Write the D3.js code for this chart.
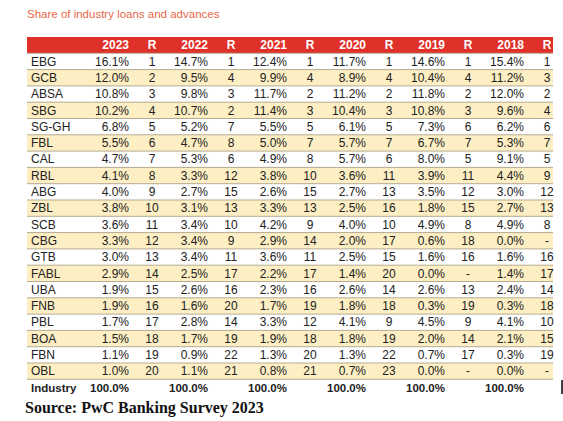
<!DOCTYPE html>
<html><head><meta charset="utf-8">
<script src="https://cdn.jsdelivr.net/npm/d3@7"></script>
<style>body{margin:0;background:#fff}svg{display:block}</style></head>
<body><svg id="c" width="563" height="421"></svg>
<script>
const banks=["EBG","GCB","ABSA","SBG","SG-GH","FBL","CAL","RBL","ABG","ZBL","SCB","CBG","GTB","FABL","UBA","FNB","PBL","BOA","FBN","OBL"];
const years=["2023","2022","2021","2020","2019","2018"];
const v2023=[16.1,12.0,10.8,10.2,6.8,5.5,4.7,4.1,4.0,3.8,3.6,3.3,3.0,2.9,1.9,1.9,1.7,1.5,1.1,1.0];
const r2023=[1,2,3,4,5,6,7,8,9,10,11,12,13,14,15,16,17,18,19,20];
const v2022=[14.7,9.5,9.8,10.7,5.2,4.7,5.3,3.3,2.7,3.1,3.4,3.4,3.4,2.5,2.6,1.6,2.8,1.7,0.9,1.1];
const r2022=[1,4,3,2,7,8,6,12,15,13,10,9,11,17,16,20,14,19,22,21];
const v2021=[12.4,9.9,11.7,11.4,5.5,5.0,4.9,3.8,2.6,3.3,4.2,2.9,3.6,2.2,2.3,1.7,3.3,1.9,1.3,0.8];
const r2021=[1,4,2,3,5,7,8,10,15,13,9,14,11,17,16,19,12,18,20,21];
const v2020=[11.7,8.9,11.2,10.4,6.1,5.7,5.7,3.6,2.7,2.5,4.0,2.0,2.5,1.4,2.6,1.8,4.1,1.8,1.3,0.7];
const r2020=[1,4,2,3,5,7,6,11,13,16,10,17,15,20,14,18,9,19,22,23];
const v2019=[14.6,10.4,11.8,10.8,7.3,6.7,8.0,3.9,3.5,1.8,4.9,0.6,1.6,0.0,2.6,0.3,4.5,2.0,0.7,0.0];
const r2019=[1,4,2,3,6,7,5,11,12,15,8,18,16,"-",13,19,9,14,17,"-"];
const v2018=[15.4,11.2,12.0,9.6,6.2,5.3,9.1,4.4,3.0,2.7,4.9,0.0,1.6,1.4,2.4,0.3,4.1,2.1,0.3,0.0];
const r2018=[1,3,2,4,6,7,5,9,12,13,8,"-",16,17,14,18,10,15,19,"-"];
const industry=["100.0%","100.0%","100.0%","100.0%","100.0%","100.0%"];
const title="Share of industry loans and advances";
const source="Source: PwC Banking Survey 2023";

const vals=[v2023,v2022,v2021,v2020,v2019,v2018], ranks=[r2023,r2022,r2021,r2020,r2019,r2018];
const svg=d3.select("#c");
const L=27,R=553;
const y=d3.scaleBand().domain(["H",...banks,"Industry"]).range([37,37+22*16.3]);
const valRight=d3.scaleLinear().domain([0,5]).range([129,524]);
const rankC=d3.scaleLinear().domain([0,5]).range([152,547]);
const font="Liberation Sans, Arial, sans-serif";
const fs=12;
svg.append("text").attr("x",L).attr("y",18).attr("fill","#e9674a").attr("font-family",font).attr("font-size",11.5).text(title);
svg.append("rect").attr("x",L).attr("y",y("H")).attr("width",R-L).attr("height",y.bandwidth()).attr("fill","#e0302a");
banks.forEach((b,i)=>{
  svg.append("rect").attr("x",L).attr("y",y(b)).attr("width",R-L).attr("height",y.bandwidth()).attr("fill",i%2?"#fdefc3":"#fff");
});
banks.forEach(b=>{svg.append("line").attr("x1",L).attr("x2",R).attr("y1",y(b)).attr("y2",y(b)).attr("stroke","#b5ab92").attr("stroke-width",1);});
svg.append("line").attr("x1",L).attr("x2",R).attr("y1",y("Industry")).attr("y2",y("Industry")).attr("stroke","#b5ab92");
const cy=k=>y(k)+y.bandwidth()/2+4.2;
years.forEach((yr,j)=>{
  svg.append("text").attr("x",valRight(j)).attr("y",cy("H")).attr("text-anchor","end").attr("fill","#fff").attr("font-weight","bold").attr("font-family",font).attr("font-size",fs).text(yr);
  svg.append("text").attr("x",rankC(j)).attr("y",cy("H")).attr("text-anchor","middle").attr("fill","#fff").attr("font-weight","bold").attr("font-family",font).attr("font-size",fs).text("R");
  banks.forEach((b,i)=>{
    svg.append("text").attr("x",valRight(j)).attr("y",cy(b)).attr("text-anchor","end").attr("fill","#222").attr("font-family",font).attr("font-size",fs).text(vals[j][i].toFixed(1)+"%");
    svg.append("text").attr("x",rankC(j)).attr("y",cy(b)).attr("text-anchor","middle").attr("fill","#222").attr("font-family",font).attr("font-size",fs).text(ranks[j][i]);
  });
  svg.append("text").attr("x",valRight(j)).attr("y",cy("Industry")).attr("text-anchor","end").attr("fill","#222").attr("font-weight","bold").attr("font-family",font).attr("font-size",11.5).text(industry[j]);
});
banks.forEach(b=>svg.append("text").attr("x",31).attr("y",cy(b)).attr("fill","#222").attr("font-family",font).attr("font-size",fs).text(b));
svg.append("text").attr("x",31).attr("y",cy("Industry")).attr("fill","#222").attr("font-weight","bold").attr("font-family",font).attr("font-size",11.5).text("Industry");
svg.append("text").attr("x",25).attr("y",413).attr("fill","#111").attr("font-weight","bold").attr("font-family","Liberation Serif, Times New Roman, serif").attr("font-size",16).text(source);
svg.append("line").attr("x1",562).attr("x2",562).attr("y1",380).attr("y2",394).attr("stroke","#000").attr("stroke-width",1.5);
</script></body></html>
